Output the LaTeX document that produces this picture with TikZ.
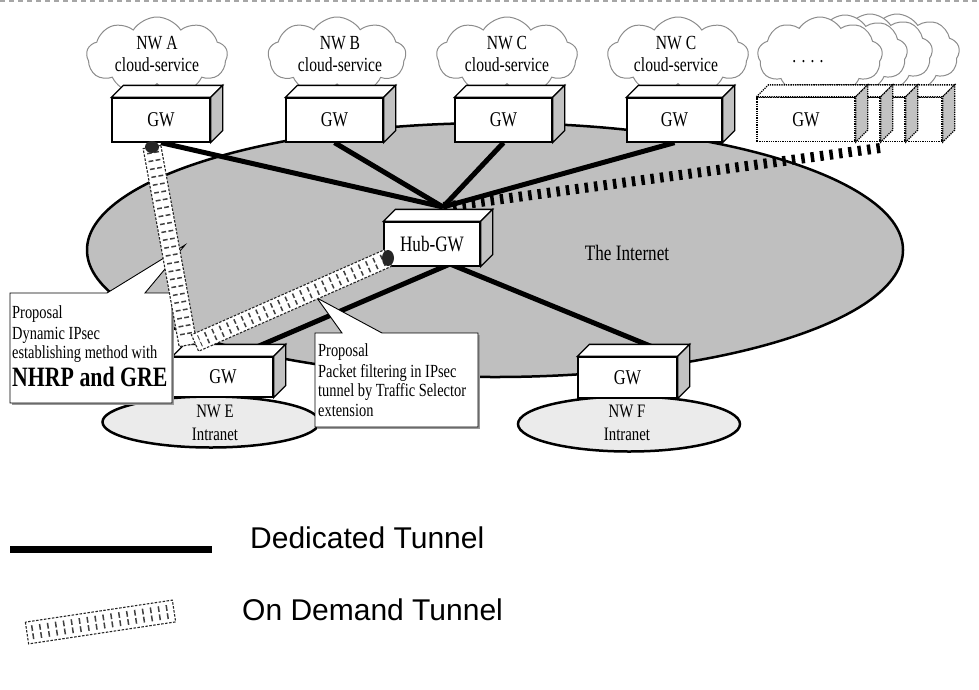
\documentclass[tikz,border=0pt]{standalone}
\usepackage{fontspec}
\setmainfont{Liberation Serif}
\newfontfamily\tf[FakeStretch=0.78]{Liberation Serif}
\newfontfamily\lf{Liberation Sans}
\usetikzlibrary{shapes.geometric,shapes.symbols,calc}
\pgfdeclarelayer{bg}
\pgfdeclarelayer{lines}
\pgfsetlayers{bg,lines,main}

\newcommand\boxfaces[2]{%
  \filldraw[line width=1.3pt,#2,fill=white] (#1.north west) -- ++(12,-12) -- ($(#1.north east)+(12,-12)$) -- (#1.north east) -- cycle;
  \filldraw[line width=1.3pt,#2,fill=black!24] (#1.north east) -- ++(12,-12) -- ($(#1.south east)+(12,-12)$) -- (#1.south east) -- cycle;}

\newcommand\odtunnel[4]{%
  \filldraw[fill=white, draw=black!85, line width=1.1pt, dash pattern=on 2.5pt off 1.5pt]
    ($(#1)!#3pt!90:(#2)$) -- ($(#1)!#3pt!-90:(#2)$) -- ($(#2)!#3pt!90:(#1)$) -- ($(#2)!#3pt!-90:(#1)$) -- cycle;
  \draw[black!75, line width=#4pt, dash pattern=on 1.5pt off 6.5pt] ($(#1)!5pt!(#2)$) -- ($(#2)!5pt!(#1)$);
  \draw[white, line width=2.2pt] ($(#1)!5pt!(#2)$) -- ($(#2)!5pt!(#1)$);}

\begin{document}
\begin{tikzpicture}[x=1pt,y=-1pt,
  gwbox/.style={draw, line width=1.3pt, fill=white, minimum width=98pt, minimum height=44pt, inner sep=0pt, font=\tf\fontsize{21}{24}\selectfont},
  cloudnode/.style={cloud, cloud puffs=9, cloud puff arc=115, cloud ignores aspect, draw=black!45, line width=1pt, fill=white, minimum width=141pt, minimum height=78pt, inner sep=0pt},
  cloudtext/.style={align=center, inner sep=0pt, font=\tf\fontsize{20}{22}\selectfont},
  ded/.style={line width=5pt, black},
  callout/.style={draw, line width=0.9pt, fill=white},
  ctext/.style={font=\tf\fontsize{18.5}{20}\selectfont, anchor=base west, inner sep=0pt},
  lgtext/.style={font=\lf\fontsize{30}{32}\selectfont, anchor=base west, inner sep=0pt}]
\useasboundingbox (0,0) rectangle (979,689);

% top dashed border
\coordinate (tl) at (0,1);
\coordinate (tr) at (979,1);
\draw[black!35, line width=1.2pt, dash pattern=on 5pt off 4pt] (tl) -- (tr);

% networks
\begin{pgfonlayer}{bg}
\node[ellipse, draw, line width=2.5pt, fill=black!25, minimum width=816pt, minimum height=254pt] (inet) at (495,250) {};
\node[ellipse, draw, line width=2.5pt, fill=black!8, minimum width=217pt, minimum height=51pt] (nwe) at (211,422) {};
\node[ellipse, draw, line width=2.5pt, fill=black!8, minimum width=222pt, minimum height=55pt] (nwf) at (629,424) {};
\end{pgfonlayer}
\node[font=\tf\fontsize{22}{24}\selectfont] (inettext) at (627,253) {The Internet};

% clouds
\node[cloudnode] (cA) at (157,56) {};
\node[cloudnode, minimum width=138pt] (cB) at (337,56) {};
\node[cloudnode] (cC1) at (507,56) {};
\node[cloudnode] (cC2) at (678,56) {};
\node[cloudnode, minimum width=125pt] (cD4) at (897,53) {};
\node[cloudnode, minimum width=125pt] (cD3) at (870,53) {};
\node[cloudnode, minimum width=125pt] (cD2) at (845,54) {};
\node[cloudnode, minimum width=125pt] (cD) at (820,56) {};
\node[cloudtext] (tA) at (157,54) {NW A\\cloud-service};
\node[cloudtext] (tB) at (340,54) {NW B\\cloud-service};
\node[cloudtext] (tC1) at (507,54) {NW C\\cloud-service};
\node[cloudtext] (tC2) at (676,54) {NW C\\cloud-service};
\node[cloudtext] (tD) at (808,62) {. . . .};

% gateways
\node[gwbox] (gwA) at (161,120) {GW};
\boxfaces{gwA}{}
\node[gwbox, minimum width=97pt] (gwB) at (334.5,120) {GW};
\boxfaces{gwB}{}
\node[gwbox, minimum width=97pt] (gwC1) at (503.5,120) {GW};
\boxfaces{gwC1}{}
\node[gwbox, minimum width=95pt] (gwC2) at (674.5,120) {GW};
\boxfaces{gwC2}{}
\node[gwbox, densely dotted] (gwD4) at (893,119.5) {};
\boxfaces{gwD4}{densely dotted}
\node[gwbox, densely dotted] (gwD3) at (856,119.5) {};
\boxfaces{gwD3}{densely dotted}
\node[gwbox, densely dotted] (gwD2) at (831,119.5) {};
\boxfaces{gwD2}{densely dotted}
\node[gwbox, densely dotted] (gwD) at (806,119.5) {GW};
\boxfaces{gwD}{densely dotted}
\node[gwbox, minimum width=96pt, font=\tf\fontsize{22}{24}\selectfont] (hub) at (432,244) {Hub-GW};
\boxfaces{hub}{}
\node[gwbox, minimum width=100pt, minimum height=40pt] (gwE) at (223,377) {GW};
\boxfaces{gwE}{}
\node[gwbox, minimum width=99pt, minimum height=41pt] (gwF) at (627.5,377.5) {GW};
\boxfaces{gwF}{}

\node[font=\tf\fontsize{19}{23}\selectfont, align=center, inner sep=0pt] (tE) at (215,423) {NW E\\Intranet};
\node[font=\tf\fontsize{19}{23}\selectfont, align=center, inner sep=0pt] (tF) at (627,423) {NW F\\Intranet};

% dedicated tunnels
\coordinate (hubT) at (443,207);
\coordinate (hubB) at (450,264);
\coordinate (eT) at (252,349);
\coordinate (fT) at (660,350);
\coordinate (dS) at (880,148);
\begin{pgfonlayer}{lines}
\draw[ded] (gwA.south) -- (hubT);
\draw[ded] (gwB.south) -- (hubT);
\draw[ded] (gwC1.south) -- (hubT);
\draw[ded] (gwC2.south) -- (hubT);
\draw[line width=10pt, dash pattern=on 3.5pt off 6pt] (dS) -- (hubT);
\draw[ded] (hubB) -- (eT);
\draw[ded] (hubB) -- (fT);
\end{pgfonlayer}

% callouts
\fill[black!40] (12,295) rectangle (174,405);
\filldraw[callout] (10,293) -- (107,293) -- (185,245) -- (145,293) -- (172,293) -- (172,403) -- (10,403) -- cycle;
\node[ctext] (p1a) at (12,318) {Proposal};
\node[ctext] (p1b) at (12,339) {Dynamic IPsec};
\node[ctext] (p1c) at (12,358) {establishing method with};
\node[ctext, font=\tf\bfseries\fontsize{28}{30}\selectfont] (p1d) at (12,386) {NHRP and GRE};

\fill[black!40] (317,335) rectangle (480,429);
\filldraw[callout] (315,333) -- (342,333) -- (317,298) -- (382,333) -- (478,333) -- (478,427) -- (315,427) -- cycle;
\node[ctext] (p2a) at (318,356) {Proposal};
\node[ctext] (p2b) at (318,377) {Packet filtering in IPsec};
\node[ctext] (p2c) at (318,396) {tunnel by Traffic Selector};
\node[ctext] (p2d) at (318,416) {extension};

% on-demand tunnels
\coordinate (ta) at (152,147);
\coordinate (te1) at (188,345);
\coordinate (th) at (388,258);
\coordinate (te2) at (195,343);
\odtunnel{ta}{te1}{9}{12}
\odtunnel{th}{te2}{9}{12}
\fill[black!85] (ta) ellipse [x radius=7, y radius=6];
\fill[black!85] (th) ellipse [x radius=6, y radius=8];

% legend
\coordinate (lg1) at (10,549);
\coordinate (lg2) at (212,549);
\draw[line width=7pt] (lg1) -- (lg2);
\node[lgtext] (ld) at (250,548) {Dedicated Tunnel};
\coordinate (lt1) at (27,633);
\coordinate (lt2) at (174,611);
\odtunnel{lt1}{lt2}{11}{14}
\node[lgtext] (lo) at (242,620) {On Demand Tunnel};
\end{tikzpicture}
\end{document}
